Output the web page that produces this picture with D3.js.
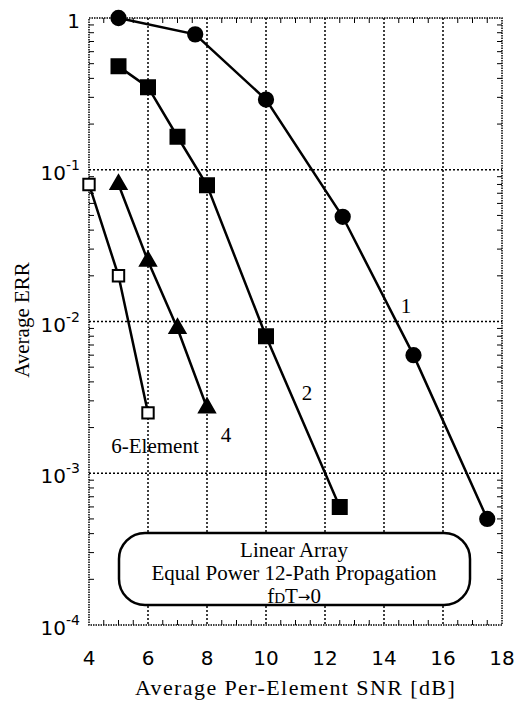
<!DOCTYPE html>
<html lang="en">
  <head>
    <meta charset="UTF-8" />
    <title>Average ERR vs SNR</title>
    <style>
      body {
        margin: 0;
        background: #fff;
      }
      .tick-label {
        font-family: "DejaVu Sans", sans-serif;
        font-size: 20px;
      }
      .serif {
        font-family: "Liberation Serif", "Times New Roman", serif;
      }
    </style>
  </head>
  <body>
    <svg id="chart"></svg>
    <script src="https://cdn.jsdelivr.net/npm/d3@7"></script>
    <script>
      // curve 1
      const snr1 = [5, 7.6, 10, 12.6, 15, 17.5];
      const err1 = [1, 0.78, 0.29, 0.049, 0.006, 0.0005];
      // curve 2
      const snr2 = [5, 6, 7, 8, 10, 12.5];
      const err2 = [0.48, 0.35, 0.165, 0.079, 0.008, 0.0006];
      // curve 4
      const snr4 = [5, 6, 7, 8];
      const err4 = [0.08, 0.025, 0.009, 0.0027];
      // 6-element
      const snr6 = [4, 5, 6];
      const err6 = [0.08, 0.02, 0.0025];

      const xTicks = [4, 6, 8, 10, 12, 14, 16, 18];
      const yExps = [0, -1, -2, -3, -4];

      const width = 517;
      const height = 705;
      const pLeft = 89, pRight = 502, pTop = 18, pBottom = 625;

      const svg = d3.select("#chart").attr("width", width).attr("height", height);
      svg.append("rect").attr("width", width).attr("height", height).attr("fill", "#fff");

      const x = d3.scaleLinear().domain([4, 18]).range([pLeft, pRight]);
      const y = d3.scaleLog().domain([1e-4, 1]).range([pBottom, pTop]);

      const grid = svg.append("g").attr("stroke", "#000").attr("stroke-width", 1.5).attr("stroke-dasharray", "2,2");
      grid.selectAll(".gx")
        .data(xTicks.slice(1, -1))
        .join("line")
        .attr("x1", (d) => x(d)).attr("x2", (d) => x(d))
        .attr("y1", pTop).attr("y2", pBottom);
      grid.selectAll(".gy")
        .data(yExps.slice(1, -1))
        .join("line")
        .attr("y1", (d) => y(Math.pow(10, d))).attr("y2", (d) => y(Math.pow(10, d)))
        .attr("x1", pLeft).attr("x2", pRight);

      // minor ticks
      const minorX = d3.range(4.5, 18, 0.5).filter((d) => d % 2 !== 0);
      const minorY = [];
      for (let e = -4; e < 0; e++) {
        for (let m = 2; m <= 9; m++) minorY.push(m * Math.pow(10, e));
      }
      const ticks = svg.append("g").attr("stroke", "#000").attr("stroke-width", 1);
      minorX.forEach((d) => {
        ticks.append("line").attr("x1", x(d)).attr("x2", x(d)).attr("y1", pBottom).attr("y2", pBottom - 5);
        ticks.append("line").attr("x1", x(d)).attr("x2", x(d)).attr("y1", pTop).attr("y2", pTop + 5);
      });
      minorY.forEach((d) => {
        ticks.append("line").attr("y1", y(d)).attr("y2", y(d)).attr("x1", pLeft).attr("x2", pLeft + 5);
        ticks.append("line").attr("y1", y(d)).attr("y2", y(d)).attr("x1", pRight).attr("x2", pRight - 5);
      });

      // frame
      svg.append("rect")
        .attr("x", pLeft).attr("y", pTop)
        .attr("width", pRight - pLeft).attr("height", pBottom - pTop)
        .attr("fill", "none").attr("stroke", "#000")
        .attr("stroke-width", 1.5).attr("stroke-dasharray", "1.5,1");

      // tick labels
      svg.append("g").selectAll("text")
        .data(xTicks)
        .join("text")
        .attr("class", "tick-label")
        .attr("x", (d) => x(d))
        .attr("y", 665)
        .attr("text-anchor", "middle")
        .text((d) => d);

      const yl = svg.append("g").selectAll("text")
        .data(yExps)
        .join("text")
        .attr("class", "tick-label")
        .attr("x", 80)
        .attr("y", (d) => y(Math.pow(10, d)) + 10)
        .attr("text-anchor", "end");
      yl.each(function (d) {
        const t = d3.select(this);
        if (d === 0) {
          t.text("1");
        } else {
          t.append("tspan").text("10");
          t.append("tspan").attr("dy", -10).attr("font-size", 14).text("-" + -d);
        }
      });

      // axis titles
      svg.append("text")
        .attr("class", "serif")
        .attr("x", x(11))
        .attr("y", 695)
        .attr("text-anchor", "middle")
        .attr("font-size", 22)
        .attr("letter-spacing", 1.4)
        .text("Average Per-Element SNR [dB]");
      svg.append("text")
        .attr("class", "serif")
        .attr("transform", "translate(29,320) rotate(-90)")
        .attr("text-anchor", "middle")
        .attr("font-size", 21)
        .text("Average ERR");

      // curves
      const line = d3.line().x((d) => x(d[0])).y((d) => y(d[1]));
      const series = [
        { snr: snr1, err: err1, sym: d3.symbolCircle, size: 160, fill: "#000" },
        { snr: snr2, err: err2, sym: d3.symbolSquare, size: 196, fill: "#000" },
        { snr: snr4, err: err4, sym: d3.symbolTriangle, size: 110, fill: "#000" },
        { snr: snr6, err: err6, sym: d3.symbolSquare, size: 130, fill: "#fff" },
      ];
      series.forEach((s) => {
        const pts = s.snr.map((v, i) => [v, s.err[i]]);
        svg.append("path")
          .attr("d", line(pts))
          .attr("fill", "none")
          .attr("stroke", "#000")
          .attr("stroke-width", 2.5);
        svg.append("g").selectAll("path")
          .data(pts)
          .join("path")
          .attr("transform", (d) => `translate(${x(d[0])},${y(d[1])})`)
          .attr("d", d3.symbol(s.sym, s.size))
          .attr("fill", s.fill)
          .attr("stroke", "#000")
          .attr("stroke-width", 2);
      });

      // curve labels
      const labels = [
        { t: "1", x: 406, y: 313 },
        { t: "2", x: 307, y: 400 },
        { t: "4", x: 226, y: 442 },
        { t: "6-Element", x: 155, y: 453 },
      ];
      svg.append("g").selectAll("text")
        .data(labels)
        .join("text")
        .attr("class", "serif")
        .attr("font-size", 21)
        .attr("text-anchor", "middle")
        .attr("x", (d) => d.x)
        .attr("y", (d) => d.y)
        .text((d) => d.t);

      // annotation box
      svg.append("rect")
        .attr("x", 119).attr("y", 533)
        .attr("width", 351).attr("height", 72)
        .attr("rx", 26)
        .attr("fill", "#fff").attr("stroke", "#000").attr("stroke-width", 2.5);
      const note = svg.append("g").attr("class", "serif").attr("font-size", 21).attr("text-anchor", "middle");
      note.append("text").attr("x", 294).attr("y", 557).text("Linear Array");
      note.append("text").attr("x", 294).attr("y", 580).text("Equal Power 12-Path Propagation");
      const f = note.append("text").attr("x", 294).attr("y", 603);
      f.append("tspan").text("f");
      f.append("tspan").attr("font-size", 15).text("D");
      f.append("tspan").text("T");
      f.append("tspan").attr("font-family", "DejaVu Sans").attr("font-size", 15).attr("dy", -1).text("\u2192");
      f.append("tspan").attr("dy", 1).text("0");
    </script>
  </body>
</html>
